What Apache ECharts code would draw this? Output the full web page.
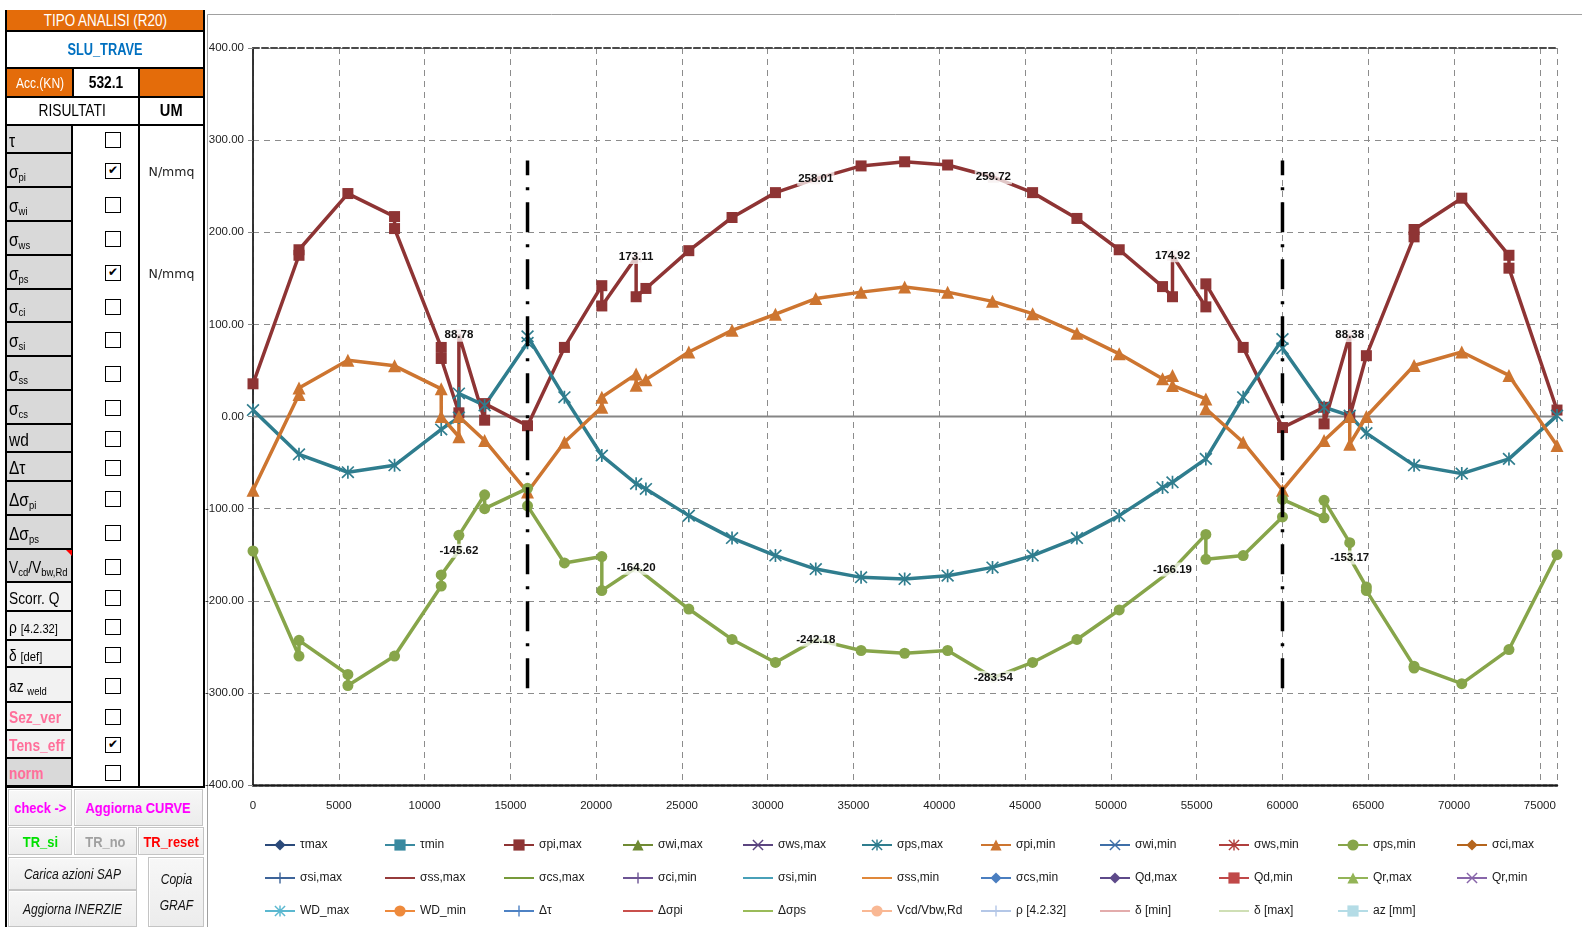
<!DOCTYPE html>
<html><head><meta charset="utf-8">
<script src="https://cdn.jsdelivr.net/npm/echarts@6/dist/echarts.min.js"></script>
<style>
html,body{margin:0;padding:0;background:#fff;width:1582px;height:927px;overflow:hidden;}
#chart{position:absolute;left:0;top:0;width:1582px;height:927px;}
#panel{position:absolute;left:0;top:0;width:206px;height:927px;font-family:'Liberation Sans',Arial,sans-serif;}
.c{position:absolute;box-sizing:border-box;display:flex;align-items:center;overflow:hidden;white-space:nowrap;}
.t{display:inline-block;white-space:nowrap;}
.t sub{font-size:11px;vertical-align:-3px;line-height:0;}
.ln{position:absolute;background:#000;}
.cb{position:absolute;box-sizing:border-box;width:16px;height:16px;border:1.5px solid #000;background:#fff;font-size:12px;line-height:13px;text-align:center;font-family:'DejaVu Sans',sans-serif;}
.btn{background:linear-gradient(#f7f7f7,#ececec);border:1px solid #c4c4c4;box-shadow:inset 1px 1px 0 #fff;justify-content:center;}
</style></head>
<body>
<div id="chart"></div>
<div id="panel"></div>
<script>
// ---------------- data ----------------
const xMin = 0, xMax = 76000, xStep = 5000;
const yMin = -400, yMax = 400, yStep = 100;

const piMaxX = [0, 2680, 2680, 5530, 8250, 8250, 10970, 10970, 12000, 12000, 13500, 13500, 16000, 18150, 20330, 20330, 22330, 22330, 22900, 25400, 27920, 30450, 32800, 35440, 37980, 40485, 43150, 45437, 48020, 50485, 53010, 53590, 53590, 55535, 55535, 57710, 60000, 62425, 62425, 63920, 63920, 64890, 67670, 67670, 70450, 73200, 73200, 76000];
const piMaxY = [35.5, 175, 181, 242, 217, 204, 75, 63, 4, 88.78, -4, 14, -10, 75, 142, 120, 173.11, 130, 139, 180, 216, 243, 258.01, 272, 276.5, 273, 259.72, 243, 215, 181, 141, 130, 174.92, 119, 144, 75, -12, 10, -8, 88.38, 0, 66, 195, 203, 237, 175, 161, 7];
const piMaxLabels = [88.78, 173.11, 258.01, 259.72, 174.92, 88.38];

const psMaxX = [0, 2680, 5530, 8250, 10970, 12000, 12000, 13500, 16000, 16000, 18150, 20330, 22330, 22900, 25400, 27920, 30450, 32800, 35440, 37980, 40485, 43100, 45437, 48020, 50485, 53010, 53590, 55535, 57710, 60000, 60000, 62425, 63920, 64890, 67670, 70450, 73200, 76000];
const psMaxY = [7, -41, -60.5, -53, -14, -1, 25, 12, 80, 87, 21, -42.4, -73, -78.6, -107.6, -132, -151, -165.6, -174.6, -176.4, -172.8, -163.8, -151, -132, -107.6, -77, -71.4, -46, 21, 84, 74, 10, 1, -18, -53, -62, -46, 1];

const piMinX = [0, 2680, 2680, 5530, 8250, 10970, 10970, 12000, 12000, 13500, 16000, 18150, 20330, 20330, 22330, 22330, 22900, 25400, 27920, 30450, 32800, 35440, 37980, 40485, 43100, 45437, 48020, 50485, 53010, 53590, 53590, 55535, 55535, 57710, 60000, 62425, 63920, 63920, 64890, 67670, 70450, 73200, 76000];
const piMinY = [-80, 24, 31, 61, 55, 30, 0, -22, 0, -26, -82, -28, 10, 21, 46, 34, 40, 70, 93.5, 111, 128, 135, 140.6, 135, 125, 111.6, 90.5, 68, 41, 44.6, 33.7, 19, 8.4, -28, -80, -26, 0, -30, 0, 55.4, 70, 44.6, -31.5];

const psMinX = [0, 2680, 2680, 5530, 5530, 8250, 10970, 10970, 12000, 12000, 13500, 13500, 16000, 16000, 18150, 20330, 20330, 22330, 25400, 27920, 30450, 32800, 35440, 37980, 40485, 43150, 45437, 48020, 50485, 53590, 55535, 55535, 57710, 60000, 60000, 62425, 62425, 63920, 63920, 64890, 64890, 67670, 67670, 70450, 73200, 76000];
const psMinY = [-146, -260, -243, -280, -292, -260, -184, -172, -145.62, -129, -85, -100, -78, -97, -159, -152, -189, -164.20, -209, -242, -267, -242.18, -254, -257, -254, -283.54, -267, -242, -210, -166.19, -128, -155, -151, -109, -90, -110, -91, -137, -153.17, -185, -189, -271, -273, -290, -253, -150];
const psMinLabels = [-145.62, -164.20, -242.18, -283.54, -166.19, -153.17];

const supportX = [16000, 60000];
const supportY = [-295, 278];

const legendRow1 = ['τmax','τmin','σpi,max','σwi,max','σws,max','σps,max','σpi,min','σwi,min','σws,min','σps,min','σci,max'];
const legendRow2 = ['σsi,max','σss,max','σcs,max','σci,min','σsi,min','σss,min','σcs,min','Qd,max','Qd,min','Qr,max','Qr,min'];
const legendRow3 = ['WD_max','WD_min','Δτ','Δσpi','Δσps','Vcd/Vbw,Rd','ρ [4.2.32]','δ [min]','δ [max]','az [mm]'];
const colorRow1 = ['#2B4A7A','#3A8AA0','#8E3434','#6F8A33','#5B4580','#2F7D8E','#CD7530','#3F6FA8','#B0403E','#87A54A','#B5651D'];
const colorRow2 = ['#3E6499','#963B3B','#779A3A','#6D5494','#48A0B8','#E0883A','#4A7EC0','#5E4A8A','#C04848','#93B457','#8866AA'];
const colorRow3 = ['#5BB8D0','#EE8A3C','#4E82C4','#C9504C','#9ABB59','#F9B894','#B4C7E7','#E3ACAC','#CFDFB5','#B4DCE6'];
const symRow1 = ['diamond','rect','rect','triangle','x','ast','triangle','x','ast','circle','diamond'];
const symRow2 = ['plus','none','none','plus','none','none','diamond','diamond','rect','triangle','x'];
const symRow3 = ['ast','circle','plus','none','none','circle','plus','none','none','rect'];

// ---------------- chart ----------------
const FONT = "'Liberation Sans',Arial,sans-serif";
const SYM = {
  ast: 'path://M-1,-8L1,-8L1,8L-1,8Z M-6.3,-7.7L7.7,6.3L6.3,7.7L-7.7,-6.3Z M-7.7,6.3L6.3,-7.7L7.7,-6.3L-6.3,7.7Z',
  x: 'path://M-6.3,-7.7L7.7,6.3L6.3,7.7L-7.7,-6.3Z M-7.7,6.3L6.3,-7.7L7.7,-6.3L-6.3,7.7Z',
  plus: 'path://M-1,-8L1,-8L1,8L-1,8Z M-8,-1L8,-1L8,1L-8,1Z'
};
function symOf(s){ return SYM[s] || s; }
function fade(hex, a){
  const n = parseInt(hex.slice(1),16);
  return 'rgba(' + (n>>16) + ',' + ((n>>8)&255) + ',' + (n&255) + ',' + a + ')';
}

const plotted = {
  'σpi,max': {xs: piMaxX, ys: piMaxY, labels: piMaxLabels, size: 11},
  'σps,max': {xs: psMaxX, ys: psMaxY, labels: [], size: 13},
  'σpi,min': {xs: piMinX, ys: piMinY, labels: [], size: 13},
  'σps,min': {xs: psMinX, ys: psMinY, labels: psMinLabels, size: 11}
};

const allNames = legendRow1.concat(legendRow2, legendRow3);
const allColors = colorRow1.concat(colorRow2, colorRow3);
const allSyms = symRow1.concat(symRow2, symRow3);

const series = [];
series.push({
  name: '_zero', type: 'line', data: [[xMin, 0], [xMax, 0]], symbol: 'none', silent: true, z: 1,
  lineStyle: {color: '#858585', width: 2}
});
allNames.forEach((name, i) => {
  const color = allColors[i];
  const p = plotted[name];
  const s = {
    name, type: 'line', symbol: allSyms[i] === 'none' ? 'none' : symOf(allSyms[i]),
    symbolSize: p ? p.size : 10, color: color,
    itemStyle: {color: color}, lineStyle: {color: color, width: 3.5},
    z: 3, data: []
  };
  if (p) {
    s.showAllSymbol = true;
    s.data = p.xs.map((x, k) => {
      const y = p.ys[k];
      if (p.labels.indexOf(y) >= 0) {
        return {
          value: [x, y],
          itemStyle: {color: fade(color, 0.22)},
          label: {
            show: true, position: 'inside',
            formatter: (d) => d.value[1].toFixed(2),
            fontFamily: FONT, fontWeight: 'bold', fontSize: 11.5, color: '#111',
            backgroundColor: 'rgba(255,255,255,0.72)', padding: [1, 1]
          }
        };
      }
      return [x, y];
    });
  }
  series.push(s);
});
supportX.forEach((sx, i) => {
  series.push({
    name: '_support' + i, type: 'line', symbol: 'none', silent: true, z: 5,
    data: supportY.map(v => [sx, v]),
    lineStyle: {color: '#000', width: 3.5, type: [30, 12, 3, 12]}
  });
});

const colLeft = [264, 384, 503, 622, 742, 861, 980, 1099, 1218, 1337, 1456];
const legends = colLeft.map((lx, c) => {
  const names = [legendRow1[c], legendRow2[c], legendRow3[c]].filter(Boolean);
  return {
    orient: 'vertical', left: lx, top: 838, padding: 0, itemGap: 19,
    itemWidth: 30, itemHeight: 14, selectedMode: false,
    textStyle: {fontFamily: FONT, fontSize: 12, color: '#1a1a1a', lineHeight: 14},
    data: names.map(n => {
      const idx = allNames.indexOf(n);
      if (allSyms[idx] === 'none') {
        return {name: n, itemStyle: {color: 'rgba(0,0,0,0)', borderWidth: 0, opacity: 0}};
      }
      return {name: n};
    })
  };
});

const chart = echarts.init(document.getElementById('chart'), null, {renderer: 'canvas'});
chart.setOption({
  animation: false,
  backgroundColor: '#fff',
  legend: legends,
  grid: {left: 253, top: 48, width: 1304, height: 737, containLabel: false},
  graphic: [{
    type: 'rect', silent: true, z: -10,
    shape: {x: 207.5, y: 14.5, width: 1380, height: 913},
    style: {fill: 'none', stroke: '#a0a0a0', lineWidth: 1}
  }],
  xAxis: [{
    type: 'value', min: xMin, max: xMax, interval: xStep, position: 'bottom',
    axisLine: {show: true, onZero: false, lineStyle: {color: '#1a1a1a', width: 2.5, type: [4, 2]}},
    axisTick: {show: false},
    axisLabel: {showMaxLabel: false, margin: 15, fontFamily: FONT, fontSize: 11.5, color: '#222', formatter: v => String(v)},
    splitLine: {show: true, lineStyle: {color: '#8c8c8c', width: 1, type: [6, 5]}}
  }, {
    type: 'value', min: xMin, max: xMax, position: 'top',
    axisLine: {show: true, onZero: false, lineStyle: {color: '#4a4a4a', width: 2, type: [6, 3]}},
    axisTick: {show: false}, axisLabel: {show: false}, splitLine: {show: false}
  }],
  yAxis: [{
    type: 'value', min: yMin, max: yMax, interval: yStep,
    axisLine: {show: true, lineStyle: {color: '#888', width: 1.5}},
    axisTick: {show: true, length: 5, lineStyle: {color: '#888'}},
    axisLabel: {margin: 9, fontFamily: FONT, fontSize: 11.5, color: '#222', formatter: v => v.toFixed(2)},
    splitLine: {show: true, lineStyle: {color: '#8c8c8c', width: 1, type: [6, 5]}}
  }, {
    type: 'value', min: yMin, max: yMax, position: 'right',
    axisLine: {show: true, lineStyle: {color: '#111', width: 1.5}},
    axisTick: {show: false}, axisLabel: {show: false}, splitLine: {show: false}
  }],
  series: series
});

// ---------------- left panel (spreadsheet controls) ----------------
const panel = document.getElementById('panel');
function cell(x, y, w, h, html, css, cls, sx, origin) {
  const d = document.createElement('div');
  d.className = 'c' + (cls ? ' ' + cls : '');
  d.style.left = x + 'px'; d.style.top = y + 'px'; d.style.width = w + 'px'; d.style.height = h + 'px';
  if (css) Object.assign(d.style, css);
  if (html) {
    const s = document.createElement('span');
    s.className = 't';
    s.style.transform = 'scaleX(' + (sx || 0.86) + ')';
    s.style.transformOrigin = (origin || 'center') + ' center';
    s.innerHTML = html;
    d.appendChild(s);
  }
  panel.appendChild(d);
  return d;
}
function line(x, y, w, h) {
  const d = document.createElement('div');
  d.className = 'ln';
  Object.assign(d.style, {left: x + 'px', top: y + 'px', width: w + 'px', height: h + 'px'});
  panel.appendChild(d);
}
const ORANGE = '#E46C0A';
cell(6, 10, 198, 21, 'TIPO ANALISI (R20)', {background: ORANGE, color: '#fff', justifyContent: 'center', fontSize: '16px'}, '', 0.84);
cell(6, 31, 198, 37, 'SLU_TRAVE', {color: '#0070C0', justifyContent: 'center', fontSize: '16px', fontWeight: 'bold'}, '', 0.8);
cell(6, 69, 67, 28, 'Acc.(KN)', {background: ORANGE, color: '#fff', justifyContent: 'center', fontSize: '14px'});
cell(73, 69, 66, 28, '532.1', {justifyContent: 'center', fontSize: '16px', fontWeight: 'bold'});
cell(139, 69, 65, 28, '', {background: ORANGE});
cell(6, 97, 132, 28, 'RISULTATI', {justifyContent: 'center', fontSize: '16px'});
cell(139, 97, 65, 28, 'UM', {justifyContent: 'center', fontSize: '17px', fontWeight: 'bold'});

const rowTops = [126, 154, 188, 222, 256, 290, 323, 357, 391, 425, 453, 482, 516, 550, 583, 612, 641, 668, 703, 731, 759, 787];
const rowLabels = ['τ', 'σ<sub>pi</sub>', 'σ<sub>wi</sub>', 'σ<sub>ws</sub>', 'σ<sub>ps</sub>', 'σ<sub>ci</sub>', 'σ<sub>si</sub>', 'σ<sub>ss</sub>', 'σ<sub>cs</sub>', 'wd', 'Δτ', 'Δσ<sub>pi</sub>', 'Δσ<sub>ps</sub>', 'V<sub>cd</sub>/V<sub>bw,Rd</sub>', 'Scorr. Q', 'ρ <span style="font-size:13px">[4.2.32]</span>', 'δ <span style="font-size:13px">[def]</span>', 'az <sub>weld</sub>', 'Sez_ver', 'Tens_eff', 'norm'];
const rowChecked = [0,1,0,0,1,0,0,0,0,0,0,0,0,0,0,0,0,0,0,1,0];
const rowUM = ['', 'N/mmq', '', '', 'N/mmq'];
for (let i = 0; i < rowLabels.length; i++) {
  const y0 = rowTops[i], h = rowTops[i + 1] - y0;
  const light = i >= 14 && i <= 19;
  const pink = i >= 18;
  cell(6, y0, 67, h, rowLabels[i], {
    background: light ? '#F2F2F2' : '#D9D9D9', color: pink ? '#FF6F9A' : '#000',
    fontSize: (i === 13 ? 16 : (i >= 14 ? 16 : 18)) + 'px', fontWeight: pink ? 'bold' : 'normal',
    paddingLeft: '3px', paddingTop: '4px',
    borderBottom: '2px solid #000', borderRight: '2px solid #000'
  }, '', 0.86, 'left');
  const cb = document.createElement('div');
  cb.className = 'cb';
  cb.style.left = '105px'; cb.style.top = (y0 + Math.round(h / 2) - 8) + 'px';
  cb.innerHTML = rowChecked[i] ? '✔' : '';
  panel.appendChild(cb);
  if (rowUM[i]) cell(139, y0, 65, h, rowUM[i], {justifyContent: 'center', fontSize: '12.5px', fontFamily: "'DejaVu Sans',sans-serif", color: '#222'}, '', 1);
}
const tri = document.createElement('div');
Object.assign(tri.style, {position: 'absolute', left: '66px', top: '550px', width: 0, height: 0, borderLeft: '6px solid transparent', borderTop: '6px solid #f00'});
panel.appendChild(tri);
line(5, 10, 2, 917);
line(203, 10, 2, 778);
line(6, 30, 198, 2);
line(6, 67, 198, 2);
line(6, 96, 198, 2);
line(6, 124, 198, 2);
line(72, 67, 2, 30);
line(138, 67, 2, 720);
line(6, 786, 199, 2);

cell(8, 789, 64, 37, 'check -&gt;', {color: '#FF00FF', fontWeight: 'bold', fontSize: '15px'}, 'btn');
cell(74, 789, 129, 37, 'Aggiorna CURVE', {color: '#FF00FF', fontWeight: 'bold', fontSize: '15px'}, 'btn');
cell(8, 827, 64, 28, 'TR_si', {color: '#00E000', fontWeight: 'bold', fontSize: '15px'}, 'btn');
cell(74, 827, 63, 28, 'TR_no', {color: '#A0A0A0', fontWeight: 'bold', fontSize: '15px'}, 'btn');
cell(138, 827, 66, 28, 'TR_reset', {color: '#FF0000', fontWeight: 'bold', fontSize: '15px'}, 'btn');
cell(8, 857, 129, 33, 'Carica azioni SAP', {fontStyle: 'italic', fontSize: '14px', color: '#111'}, 'btn');
cell(8, 890, 129, 37, 'Aggiorna INERZIE', {fontStyle: 'italic', fontSize: '14px', color: '#111'}, 'btn');
cell(148, 857, 56, 70, '<div style="text-align:center;line-height:26px">Copia<br>GRAF</div>', {fontStyle: 'italic', fontSize: '14px', color: '#111'}, 'btn');
</script>
</body></html>
